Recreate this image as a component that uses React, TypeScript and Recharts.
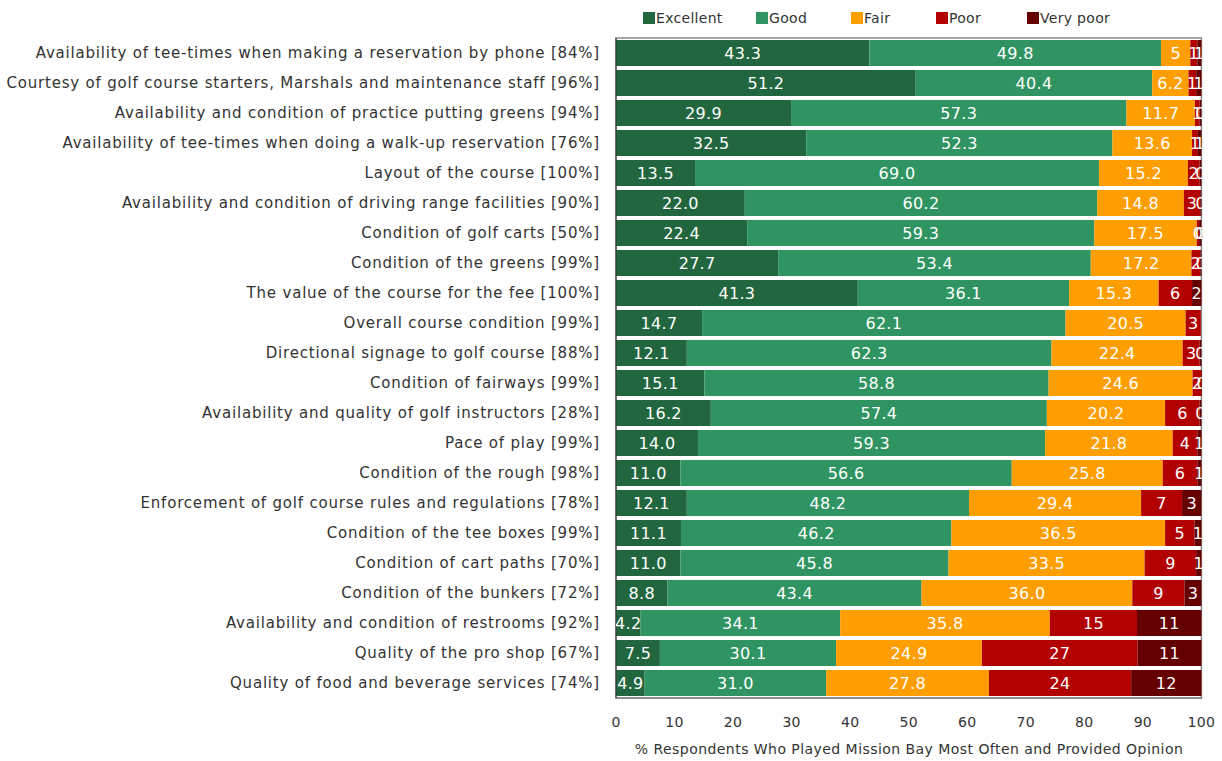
import React from 'react';
import { BarChart, Bar, XAxis, YAxis, LabelList, ReferenceArea } from 'recharts';

const categories = [
  'Availability of tee-times when making a reservation by phone [84%]',
  'Courtesy of golf course starters, Marshals and maintenance staff [96%]',
  'Availability and condition of practice putting greens [94%]',
  'Availability of tee-times when doing a walk-up reservation [76%]',
  'Layout of the course [100%]',
  'Availability and condition of driving range facilities [90%]',
  'Condition of golf carts [50%]',
  'Condition of the greens [99%]',
  'The value of the course for the fee [100%]',
  'Overall course condition [99%]',
  'Directional signage to golf course [88%]',
  'Condition of fairways [99%]',
  'Availability and quality of golf instructors [28%]',
  'Pace of play [99%]',
  'Condition of the rough [98%]',
  'Enforcement of golf course rules and regulations [78%]',
  'Condition of the tee boxes [99%]',
  'Condition of cart paths [70%]',
  'Condition of the bunkers [72%]',
  'Availability and condition of restrooms [92%]',
  'Quality of the pro shop [67%]',
  'Quality of food and beverage services [74%]',
];

const excellent = [43.3, 51.2, 29.9, 32.5, 13.5, 22.0, 22.4, 27.7, 41.3, 14.7, 12.1, 15.1, 16.2, 14.0, 11.0, 12.1, 11.1, 11.0, 8.8, 4.2, 7.5, 4.9];
const good = [49.8, 40.4, 57.3, 52.3, 69.0, 60.2, 59.3, 53.4, 36.1, 62.1, 62.3, 58.8, 57.4, 59.3, 56.6, 48.2, 46.2, 45.8, 43.4, 34.1, 30.1, 31.0];
const fair = [5, 6.2, 11.7, 13.6, 15.2, 14.8, 17.5, 17.2, 15.3, 20.5, 22.4, 24.6, 20.2, 21.8, 25.8, 29.4, 36.5, 33.5, 36.0, 35.8, 24.9, 27.8];
const poor = [1.2, 1.3, 0.8, 1.0, 2.0, 2.8, 0.4, 1.5, 5.7, 2.6, 2.9, 1.5, 5.9, 4.2, 5.9, 7.0, 5.0, 8.8, 8.9, 14.9, 26.6, 24.3];
const veryPoor = [0.7, 0.9, 0.3, 0.6, 0.3, 0.2, 0.4, 0.2, 1.6, 0, 0.3, 0.1, 0.3, 0.7, 0.7, 3.3, 1.2, 0.9, 2.9, 11.0, 10.9, 12.0];

const xTicks = [0, 10, 20, 30, 40, 50, 60, 70, 80, 90, 100];

const series = [
  { key: 'excellent', name: 'Excellent', color: '#22663f', values: excellent, digits: 1 },
  { key: 'good', name: 'Good', color: '#309462', values: good, digits: 1 },
  { key: 'fair', name: 'Fair', color: '#ff9e00', values: fair, digits: 1 },
  { key: 'poor', name: 'Poor', color: '#b20000', values: poor, digits: 0 },
  { key: 'veryPoor', name: 'Very poor', color: '#650000', values: veryPoor, digits: 0 },
];

const data = categories.map((name, i) => {
  const row: Record<string, string | number> = { name };
  series.forEach((s) => (row[s.key] = s.values[i]));
  return row;
});

const FONT = '"DejaVu Sans", Verdana, sans-serif';
const W = 1222;
const H = 761;
const M = { top: 38, right: 20, bottom: 0, left: 0 };
const X_HEIGHT = 63;
const Y_WIDTH = 616;

const fmt = (v: number, digits: number) => {
  if (digits === 0) return String(Math.round(v));
  if (Number.isInteger(v) && v < 10) return String(v);
  return v.toFixed(1);
};

// value labels are centred in each segment and clipped to the plot box
const makeLabel = (digits: number) => (props: any) => {
  const { x, y, width, height, value } = props;
  if (!value) return null;
  return (
    <text
      x={Number(x) + Number(width) / 2}
      y={Number(y) + Number(height) / 2}
      fill="#fff"
      fontSize={16}
      fontFamily={FONT}
      letterSpacing={0.3}
      textAnchor="middle"
      dominantBaseline="central"
      clipPath="url(#plot-clip)"
    >
      {fmt(Number(value), digits)}
    </text>
  );
};

const LegendRow = () => {
  const widths = [113, 95, 85, 91, 100];
  return (
    <div style={{ position: 'absolute', left: 643, top: 10, display: 'flex', fontFamily: FONT, fontSize: 14, letterSpacing: 0.3, color: '#333' }}>
      {series.map((s, i) => (
        <div key={s.key} style={{ width: widths[i], display: 'flex', alignItems: 'center' }}>
          <span style={{ width: 12, height: 12, background: s.color, display: 'inline-block', marginRight: 1 }} />
          <span>{s.name}</span>
        </div>
      ))}
    </div>
  );
};

export default function App() {
  return (
    <div style={{ position: 'absolute', left: 0, top: 0, width: W, height: H, background: '#fff' }}>
      <LegendRow />
      <BarChart width={W} height={H} data={data} layout="vertical" margin={M} barSize={26}>
        <defs>
          <clipPath id="plot-clip">
            <rect x={Y_WIDTH} y={M.top} width={W - M.right - Y_WIDTH} height={H - M.top - X_HEIGHT} />
          </clipPath>
        </defs>
        <XAxis
          type="number"
          domain={[0, 100]}
          ticks={xTicks}
          tickLine={false}
          axisLine={{ stroke: '#777' }}
          tickMargin={13}
          height={X_HEIGHT}
          tick={{ fill: '#333', fontSize: 14, fontFamily: FONT, letterSpacing: 0.3 }}
          label={{ value: '% Respondents Who Played Mission Bay Most Often and Provided Opinion', position: 'insideBottom', offset: 7, fill: '#333', fontSize: 14, fontFamily: FONT, letterSpacing: 0.45 }}
        />
        <YAxis
          type="category"
          dataKey="name"
          width={Y_WIDTH}
          tickLine={false}
          tickSize={0}
          tickMargin={16}
          axisLine={{ stroke: '#333' }}
          interval={0}
          tick={{ fill: '#333', fontSize: 15, fontFamily: FONT, letterSpacing: 0.8 }}
        />
        {series.map((s) => (
          <Bar key={s.key} dataKey={s.key} stackId="a" fill={s.color} isAnimationActive={false}>
            <LabelList dataKey={s.key} content={makeLabel(s.digits)} />
          </Bar>
        ))}
        <ReferenceArea x1={0} x2={100} fill="none" stroke="#888" strokeWidth={1.5} ifOverflow="visible" />
      </BarChart>
    </div>
  );
}
